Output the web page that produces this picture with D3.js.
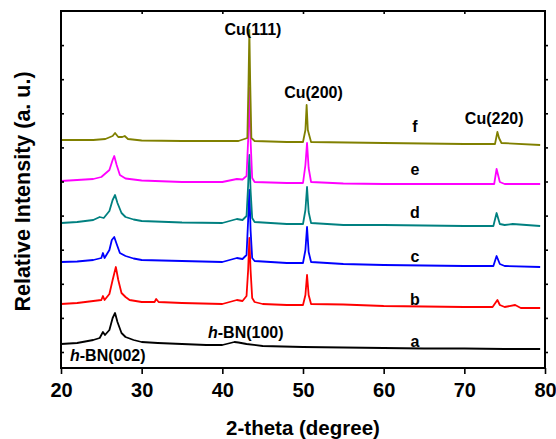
<!DOCTYPE html>
<html>
<head>
<meta charset="utf-8">
<script src="https://cdn.jsdelivr.net/npm/d3@7"></script>
<style>
  html, body { margin: 0; padding: 0; background: #fff; }
  svg { display: block; }
  text { font-family: "Liberation Sans", Arial, Helvetica, sans-serif; font-weight: bold; }
</style>
</head>
<body>
<svg id="chart" width="556" height="439"></svg>
<script>
// ---- data (2-theta in degrees, intensity in a.u., before vertical offset) ----
const seriesNames = ["a", "b", "c", "d", "e", "f"];
const seriesColors = ["#000000", "#ff0000", "#0000ff", "#008080", "#ff00ff", "#808000"];
const seriesOffsets = [14, 54, 96, 135, 177, 218];

const seriesA = [[20,10],[22,11],[24,14],[24.8,16],[25.2,22],[25.45,19],[26,24],[26.4,36],[26.7,41],[27.0,32],[27.5,21],[28,17],[29,14],[30,12],[32,11],[35,10],[38,9],[40,9],[41.5,12],[42,11.5],[43,10],[45,8],[50,7],[55,6.5],[60,6],[65,5.5],[70,5.5],[75,5],[79.4,5]];
const seriesB = [[20,10],[22,11],[24,13],[25,14],[25.2,18],[25.4,14],[26,20],[26.4,34],[26.8,47],[27.1,34],[27.5,21],[28,17],[28.5,14],[30,12],[31.6,12],[31.8,15],[32.1,12],[35,11],[40,10],[41.8,14],[42.5,13],[43.0,18],[43.2,44],[43.35,76],[43.5,44],[43.7,16],[44,12],[45,10],[48,9],[50,9],[50.3,19],[50.5,39],[50.7,19],[51,10],[55,9.5],[60,8],[65,7.5],[70,7],[73.5,7],[74.1,14],[74.4,9],[75,7],[76.3,9],[77,6],[79.4,6]];
const seriesC = [[20,10],[22,10.5],[24,12],[25,14],[25.2,19],[25.4,14],[26,22],[26.3,32],[26.6,35],[26.9,28],[27.3,19],[28,16],[29,13.5],[30,12],[35,11],[40,10],[41.8,14],[42.5,13],[43,17],[43.2,52],[43.35,82],[43.5,42],[43.7,14],[44,11],[48,9],[50,9],[50.3,22],[50.5,45],[50.7,20],[51,10],[55,8],[60,7],[70,6],[73.6,6],[74.0,16],[74.4,8],[75,6],[79.4,5]];
const seriesD = [[20,10],[22,11],[24,13],[24.8,16],[25.3,15],[26,22],[26.4,33],[26.7,38],[27,30],[27.5,20],[28,16],[29,13.5],[30,12],[35,10.5],[40,10],[41.8,14],[42.5,13],[43,17],[43.2,48],[43.35,78],[43.5,43],[43.7,15],[44,11],[48,9],[50,9],[50.3,23],[50.5,46],[50.7,21],[51,10],[55,8],[60,8],[70,7],[73.6,7],[74.0,20],[74.4,9],[75,8],[76,9],[79.4,7]];
const seriesE = [[20,10],[22,11],[24,12],[25,14],[26,21],[26.4,31],[26.6,35],[26.9,26],[27.3,16],[28,12.5],[30,10.5],[35,9],[40,9],[41.8,12],[42.5,11.5],[43,15],[43.2,51],[43.35,103],[43.5,51],[43.7,13],[44,9],[48,8],[50,8],[50.3,26],[50.5,48],[50.7,23],[51,9],[55,7.5],[60,7],[70,7],[73.7,7],[74.0,22],[74.4,9],[75,7],[79.4,7]];
const seriesF = [[20,10],[24,10],[25.5,11],[26.4,14],[26.7,17],[27.1,13],[27.6,13],[27.9,14],[28.3,11],[30,9.5],[35,9],[40,9],[42,9],[43.1,12],[43.25,70],[43.35,120],[43.45,70],[43.6,12],[44,9],[48,8],[50,8],[50.3,20],[50.45,45],[50.6,20],[51,8],[60,7],[70,6],[73.8,6],[74.1,18],[74.3,12],[74.6,7],[79.4,5]];
const allSeries = [seriesA, seriesB, seriesC, seriesD, seriesE, seriesF];

const xTicks = [20, 30, 40, 50, 60, 70, 80];
const xTickLabels = ["20", "30", "40", "50", "60", "70", "80"];
const peakLabels = ["Cu(111)", "Cu(200)", "Cu(220)"];
const peakLabelTheta = [43.8, 51.3, 73.7];
const xTitle = "2-theta (degree)";
const yTitle = "Relative Intensity (a. u.)";

// ---- layout ----
const svg = d3.select("#chart");
const L = 61, R = 545, T = 11, B = 368;
const x = d3.scaleLinear().domain([20, 80]).range([L, R]);
const y = d3.scaleLinear().domain([0, 357]).range([B, T]);
const yTicks = d3.range(0, 10).map(i => 16 + i * 34.1);

// curves
const line = d3.line().x(d => x(d[0])).y(d => y(d[1]));
allSeries.forEach((s, i) => {
  const pts = s.map(p => [p[0], p[1] + seriesOffsets[i]]);
  svg.append("path").attr("d", line(pts))
    .attr("fill", "none").attr("stroke", seriesColors[i])
    .attr("stroke-width", 1.8).attr("stroke-linejoin", "round");
});

// axes
const gB = svg.append("g").attr("transform", `translate(0,${B})`)
  .call(d3.axisBottom(x).tickValues(xTicks).tickSize(6).tickPadding(9)
    .tickFormat((d, i) => xTickLabels[i]));
const gT = svg.append("g").attr("transform", `translate(0,${T})`)
  .call(d3.axisTop(x).tickValues(xTicks.slice(1, -1)).tickSize(-3).tickFormat(""));
const gL = svg.append("g").attr("transform", `translate(${L},0)`)
  .call(d3.axisLeft(y).tickValues(yTicks).tickSize(-3).tickFormat(""));
const gR = svg.append("g").attr("transform", `translate(${R},0)`)
  .call(d3.axisRight(y).tickValues(yTicks).tickSize(3).tickFormat(""));
[gB, gT, gL, gR].forEach(g => {
  g.select(".domain").remove();
  g.selectAll(".tick line").attr("stroke", "#000").attr("stroke-width", 1.6);
});
gB.selectAll(".tick text").attr("font-size", 20).attr("font-weight", "bold")
  .attr("fill", "#000").attr("font-family", '"Liberation Sans", Arial, sans-serif');

// frame
svg.append("rect").attr("x", L).attr("y", T).attr("width", R - L).attr("height", B - T)
  .attr("fill", "none").attr("stroke", "#000").attr("stroke-width", 2);

// titles
svg.append("text").attr("x", (L + R) / 2).attr("y", 435).attr("text-anchor", "middle")
  .attr("font-size", 20.5).text(xTitle);
svg.append("text").attr("transform", `translate(30,${(T + B) / 2 + 2}) rotate(-90)`)
  .attr("text-anchor", "middle").attr("font-size", 21.5).text(yTitle);

// peak labels
const peakLabelY = [35, 98, 124];
peakLabels.forEach((t, i) => {
  svg.append("text").attr("x", x(peakLabelTheta[i])).attr("y", peakLabelY[i])
    .attr("text-anchor", "middle").attr("font-size", 16).text(t);
});

// series letters
const letterY = [347, 305, 262, 218, 175, 132];
seriesNames.forEach((n, i) => {
  svg.append("text").attr("x", 415).attr("y", letterY[i])
    .attr("text-anchor", "middle").attr("font-size", 16).text(n);
});

// h-BN labels
function hbn(xp, yp, rest) {
  const t = svg.append("text").attr("x", xp).attr("y", yp).attr("font-size", 16);
  t.append("tspan").attr("font-style", "italic").text("h");
  t.append("tspan").text(rest);
}
hbn(70, 361, "-BN(002)");
hbn(208, 338, "-BN(100)");
</script>
</body>
</html>
